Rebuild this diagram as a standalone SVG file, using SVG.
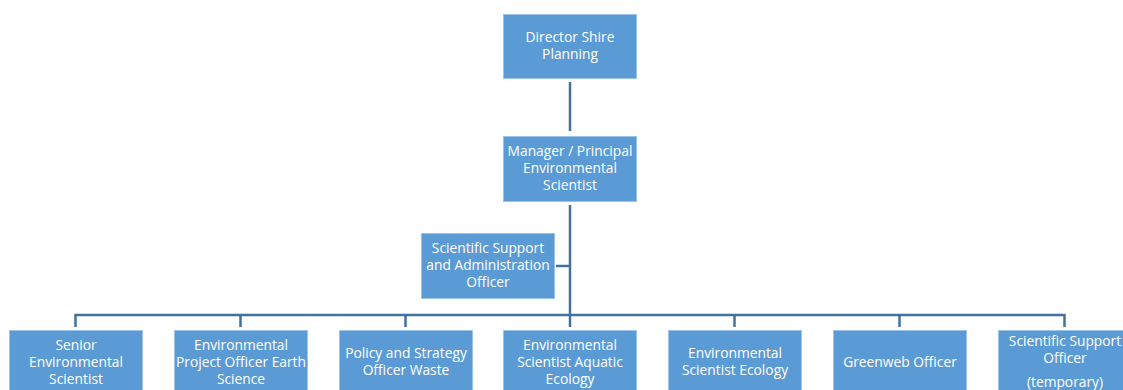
<svg xmlns="http://www.w3.org/2000/svg" width="1123" height="390" viewBox="0 0 1123 390">
  <style>
    .box { fill: #5B9BD5; stroke: #9DC3E6; stroke-width: 1; }
    .lbl { fill: #FFFFFF; font-family: "Open Sans", "Liberation Sans", Arial, sans-serif; font-size: 13.8px; text-anchor: middle; }
    .conn { fill: none; stroke: #41719C; stroke-width: 2.5; }
  </style>
  <rect width="1123" height="390" fill="#FFFFFF"/>

  <g id="connectors">
    <line class="conn" x1="570" y1="82" x2="570" y2="131"/>
    <line class="conn" x1="570" y1="205" x2="570" y2="316"/>
    <line class="conn" x1="556" y1="266" x2="570" y2="266"/>
    <polyline class="conn" points="75.5,327 75.5,315 1064.5,315 1064.5,327"/>
    <line class="conn" x1="240.5" y1="315" x2="240.5" y2="327"/>
    <line class="conn" x1="405.5" y1="315" x2="405.5" y2="327"/>
    <line class="conn" x1="570" y1="315" x2="570" y2="327"/>
    <line class="conn" x1="734.5" y1="315" x2="734.5" y2="327"/>
    <line class="conn" x1="899.5" y1="315" x2="899.5" y2="327"/>
  </g>

  <g id="director">
    <rect class="box" x="503.5" y="14.5" width="133" height="64"/>
    <text class="lbl" x="570" y="42">Director Shire</text>
    <text class="lbl" x="570" y="59">Planning</text>
  </g>

  <g id="manager">
    <rect class="box" x="503.5" y="136.5" width="133" height="65"/>
    <text class="lbl" x="570" y="156">Manager / Principal</text>
    <text class="lbl" x="570" y="173">Environmental</text>
    <text class="lbl" x="570" y="190">Scientist</text>
  </g>

  <g id="support-admin">
    <rect class="box" x="421.5" y="233.5" width="133" height="65"/>
    <text class="lbl" x="488" y="253">Scientific Support</text>
    <text class="lbl" x="488" y="270">and Administration</text>
    <text class="lbl" x="488" y="287">Officer</text>
  </g>

  <g id="senior-scientist">
    <rect class="box" x="9.5" y="330.5" width="133" height="65"/>
    <text class="lbl" x="76" y="350">Senior</text>
    <text class="lbl" x="76" y="367">Environmental</text>
    <text class="lbl" x="76" y="384">Scientist</text>
  </g>

  <g id="earth-science">
    <rect class="box" x="174.5" y="330.5" width="133" height="65"/>
    <text class="lbl" x="241" y="350">Environmental</text>
    <text class="lbl" x="241" y="367">Project Officer Earth</text>
    <text class="lbl" x="241" y="384">Science</text>
  </g>

  <g id="policy-waste">
    <rect class="box" x="339.5" y="330.5" width="133" height="65"/>
    <text class="lbl" x="406" y="358">Policy and Strategy</text>
    <text class="lbl" x="406" y="375">Officer Waste</text>
  </g>

  <g id="aquatic-ecology">
    <rect class="box" x="503.5" y="330.5" width="133" height="65"/>
    <text class="lbl" x="570" y="350">Environmental</text>
    <text class="lbl" x="570" y="367">Scientist Aquatic</text>
    <text class="lbl" x="570" y="384">Ecology</text>
  </g>

  <g id="ecology">
    <rect class="box" x="668.5" y="330.5" width="133" height="65"/>
    <text class="lbl" x="735" y="358">Environmental</text>
    <text class="lbl" x="735" y="375">Scientist Ecology</text>
  </g>

  <g id="greenweb">
    <rect class="box" x="833.5" y="330.5" width="133" height="65"/>
    <text class="lbl" x="900" y="367">Greenweb Officer</text>
  </g>

  <g id="support-temporary">
    <rect class="box" x="998.5" y="330.5" width="133" height="65"/>
    <text class="lbl" x="1065" y="346">Scientific Support</text>
    <text class="lbl" x="1065" y="363">Officer</text>
    <text class="lbl" x="1065" y="387">(temporary)</text>
  </g>
</svg>
